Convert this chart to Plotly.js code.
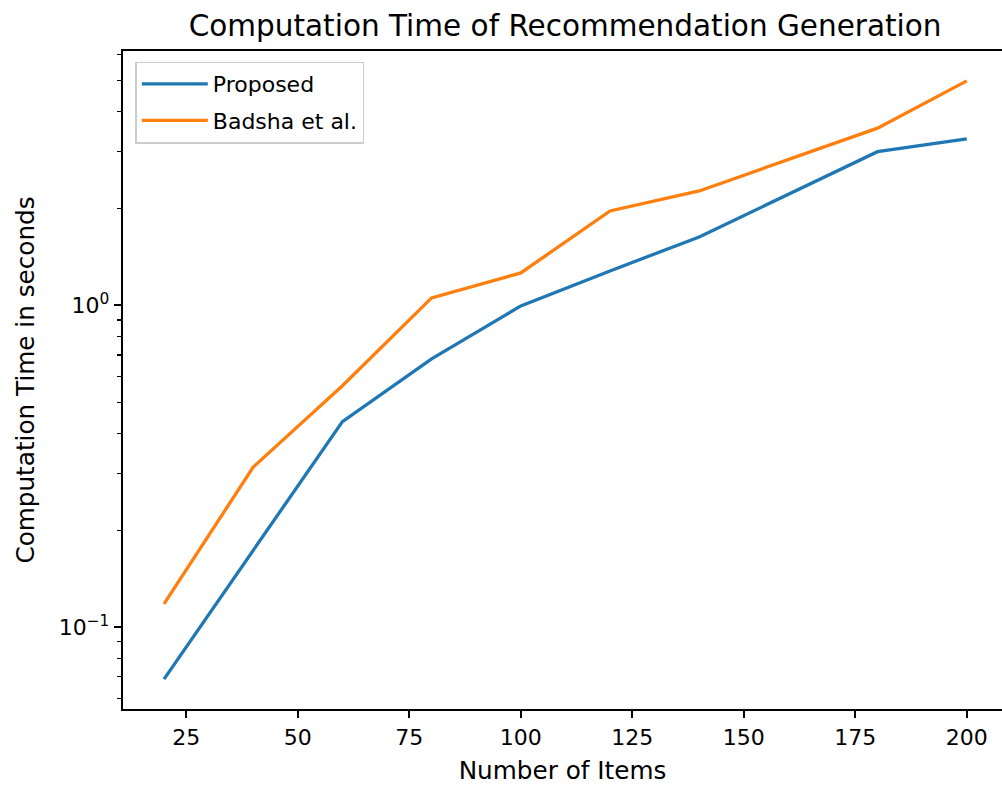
<!DOCTYPE html>
<html>
<head>
<meta charset="utf-8">
<script src="https://cdn.plot.ly/plotly-3.0.1.min.js"></script>
<style>html,body{margin:0;padding:0;background:#fff;}#chart{width:1002px;height:789px;}</style>
</head>
<body>
<div id="chart"></div>
<script>
const items = [20, 40, 60, 80, 100, 120, 140, 180, 200];
const proposed = [0.0689, 0.173, 0.435, 0.681, 0.995, 1.278, 1.63, 3.0, 3.29];
const badsha = [0.118, 0.314, 0.562, 1.054, 1.26, 1.963, 2.265, 3.55, 4.98];
const seriesNames = ['Proposed', 'Badsha et al.'];
const xTicks = [25, 50, 75, 100, 125, 150, 175, 200];
const yTicks = [0.1, 1];
const yTickText = ['10<sup>\u22121</sup>', '10<sup>0</sup>'];
const yMinorTicks = [0.06, 0.07, 0.08, 0.09, 0.2, 0.3, 0.4, 0.5, 0.6, 0.7, 0.8, 0.9, 2, 3, 4, 5, 6];

const FONT = 'DejaVu Sans, sans-serif';
const traces = [
  {x: items, y: proposed, name: seriesNames[0], legendgroup: 'a', mode: 'lines', line: {color: '#1f77b4', width: 3.3}},
  {x: items, y: badsha, name: seriesNames[1], legendgroup: 'b', mode: 'lines', line: {color: '#ff7f0e', width: 3.3}}
];
const layout = {
  width: 1002, height: 789,
  paper_bgcolor: '#fff', plot_bgcolor: '#fff',
  margin: {l: 123, r: 0, t: 51, b: 80},
  font: {family: FONT, color: '#000', size: 22},
  title: {text: 'Computation Time of Recommendation Generation', font: {family: FONT, size: 29.5, color: '#000'}, x: 0.564, xanchor: 'center', y: 0.968, yanchor: 'middle'},
  showlegend: true,
  legend: {x: 0.014, y: 0.984, xanchor: 'left', yanchor: 'top', bgcolor: 'rgba(255,255,255,0.8)', bordercolor: '#cccccc', borderwidth: 1.5,
           font: {family: FONT, size: 22, color: '#000'}, tracegroupgap: 5, itemwidth: 66},
  xaxis: {
    range: [10.8, 207.9], tickmode: 'array', tickvals: xTicks,
    showgrid: false, zeroline: false, showline: true, linecolor: '#000', linewidth: 1.7, mirror: true,
    ticks: 'outside', ticklen: 7.5, tickwidth: 1.7, tickcolor: '#000',
    tickfont: {family: FONT, size: 22, color: '#000'},
    title: {text: 'Number of Items', font: {family: FONT, size: 24.7, color: '#000'}, standoff: 13}
  },
  yaxis: {
    type: 'log', range: [-1.2547, 0.790], tickmode: 'array', tickvals: yTicks, ticktext: yTickText,
    showgrid: false, zeroline: false, showline: true, linecolor: '#000', linewidth: 1.7, mirror: false,
    ticks: 'outside', ticklen: 7.5, tickwidth: 1.7, tickcolor: '#000',
    tickfont: {family: FONT, size: 22, color: '#000'},
    minor: {tickmode: 'array', tickvals: yMinorTicks, ticks: 'outside', ticklen: 4.2, tickwidth: 1.2, tickcolor: '#000', showgrid: false},
    title: {text: 'Computation Time in seconds', font: {family: FONT, size: 24.7, color: '#000'}, standoff: 17}
  }
};
Plotly.newPlot('chart', traces, layout, {displayModeBar: false, staticPlot: true});
</script>
</body>
</html>
